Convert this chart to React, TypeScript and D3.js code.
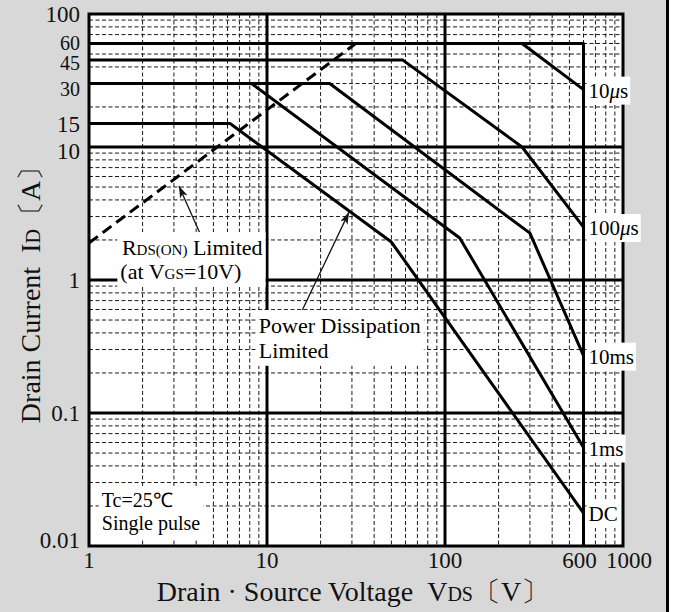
import { useLayoutEffect, useRef, useState } from "react";
import { scaleLog, line } from "d3";

const W = 677;
const H = 612;
const FONT = "'Liberation Serif', 'Times New Roman', serif";

// SOA curves (VDS in V, ID in A)
const curveNames = ["10", "100", "10ms", "1ms", "DC"];
const curveVds = [
  [271, 600],
  [1, 58, 271, 600],
  [1, 22.5, 300, 600],
  [1, 8.2, 121, 600],
  [1, 6.2, 50, 600],
];
const curveId = [
  [60, 27],
  [45, 45, 10, 2.5],
  [30, 30, 2.25, 0.27],
  [30, 30, 2.07, 0.055],
  [15, 15, 1.93, 0.0177],
];

// 60 A / 600 V envelope
const boxVds = [1, 600, 600];
const boxId = [60, 60, 0.01];

// RDS(on) limit (dashed)
const rdsVds = [1, 31.5];
const rdsId = [1.9, 60];

// annotation arrows: [tail, head]
const rdsArrowVds = [4.2, 3.2];
const rdsArrowId = [2.25, 5.1];
const pdArrowVds = [15.7, 28.9];
const pdArrowId = [0.585, 3.24];

const xTickVals = [1, 10, 100, 600, 1000];
const yTickVals = [100, 60, 45, 30, 15, 10, 1, 0.1, 0.01];
const xMajor = [10, 100];
const yMajor = [10, 1, 0.1];

// Boxed text: white rectangle behind whatever text is inside
const Boxed = ({ children, pad = 2 }) => {
	const ref = useRef(null);
	const [bb, setBb] = useState(null);
	useLayoutEffect(() => {
		if (ref.current) setBb(ref.current.getBBox());
	}, []);
	return (
		<g>
			{bb && (
				<rect
					x={bb.x - pad}
					y={bb.y - pad}
					width={bb.width + 2 * pad}
					height={bb.height + 2 * pad}
					fill="#fff"
				/>
			)}
			<g ref={ref}>{children}</g>
		</g>
	);
};

export default function App() {
	let x = scaleLog().domain([1, 1000]).range([89, 623]);
	let y = scaleLog().domain([0.01, 100]).range([546, 14]);

	let path = (vs, is) =>
		line()(vs.map((v, i) => [x(v), y(is[i])]));

	let xMinor = x.ticks().filter((t) => !xMajor.includes(t) && t > 1 && t < 1000);
	let yMinor = y.ticks().filter((t) => !yMajor.includes(t) && t > 0.01 && t < 100);

	let yNudge = (t) =>
		t === 45 ? 2 : t === 60 ? -2 : t === 30 ? 4 : t === 10 ? 4 : t === 0.01 ? -6 : 0;
	let xNudge = (t) => (t === 600 ? -4 : t === 1000 ? 6 : 0);

	let [x0, x1] = x.range();
	let [y0, y1] = y.range();

	return (
		<svg
			width={W}
			height={H}
			style={{ position: "absolute", left: 0, top: 0 }}
			fontFamily={FONT}
		>
			<defs>
				<marker
					id="head"
					viewBox="0 0 12 8"
					refX="12"
					refY="4"
					markerWidth="12"
					markerHeight="8"
					markerUnits="userSpaceOnUse"
					orient="auto"
				>
					<path d="M0,0 L12,4 L0,8 L3,4 z" fill="#111" />
				</marker>
			</defs>
			<rect width={W} height={H} fill="#fff" />
			<rect width={667} height={H} fill="#d8d8d8" />
			<rect x={666} width={3} height={H} fill="#000" />

			<rect x={x0} y={y1} width={x1 - x0} height={y0 - y1} fill="#fff" />

			<g stroke="#1a1a1a" strokeWidth={1} strokeDasharray="4,2.5">
				{xMinor.map((t) => (
					<line key={"x" + t} x1={x(t)} x2={x(t)} y1={y1} y2={y0} />
				))}
				{yMinor.map((t) => (
					<line key={"y" + t} x1={x0} x2={x1} y1={y(t)} y2={y(t)} />
				))}
			</g>
			<g stroke="#000" strokeWidth={3}>
				{xMajor.map((t) => (
					<line key={"X" + t} x1={x(t)} x2={x(t)} y1={y1} y2={y0} />
				))}
				{yMajor.map((t) => (
					<line key={"Y" + t} x1={x0} x2={x1} y1={y(t)} y2={y(t)} />
				))}
			</g>
			<rect
				x={x0}
				y={y1}
				width={x1 - x0}
				height={y0 - y1}
				fill="none"
				stroke="#000"
				strokeWidth={3}
			/>

			<g fill="none" stroke="#000" strokeWidth={3} strokeLinejoin="round">
				<path d={path(boxVds, boxId)} />
				{curveVds.map((vs, i) => (
					<path key={i} d={path(vs, curveId[i])} />
				))}
				<path d={path(rdsVds, rdsId)} strokeDasharray="11,6" strokeLinecap="butt" />
			</g>

			<g stroke="#111" strokeWidth={1.3}>
				<line
					x1={x(rdsArrowVds[0])}
					y1={y(rdsArrowId[0])}
					x2={x(rdsArrowVds[1])}
					y2={y(rdsArrowId[1])}
					markerEnd="url(#head)"
				/>
				<line
					x1={x(pdArrowVds[0])}
					y1={y(pdArrowId[0])}
					x2={x(pdArrowVds[1])}
					y2={y(pdArrowId[1])}
					markerEnd="url(#head)"
				/>
			</g>

			{/* annotations */}
			<Boxed pad={3}>
				<text x={x(1.53)} y={y(1.54)} fontSize={22}>
					R<tspan fontSize={15}>DS(ON)</tspan> Limited
				</text>
				<text x={x(1.5)} y={y(1.0) - 1} fontSize={22}>
					(at V<tspan fontSize={15}>GS</tspan>=10V)
				</text>
			</Boxed>
			<Boxed pad={3}>
				<text x={x(9.0)} y={y(0.4)} fontSize={22}>
					Power Dissipation
				</text>
				<text x={x(9.0)} y={y(0.26)} fontSize={22}>
					Limited
				</text>
			</Boxed>
			<Boxed pad={3}>
				<text x={x(1.18)} y={y(0.0195)} fontSize={20}>
					Tc=25℃
				</text>
				<text x={x(1.18)} y={y(0.0131)} fontSize={20}>
					Single pulse
				</text>
			</Boxed>

			{curveNames.map((n, i) => {
				let ids = curveId[i];
				let cy = y(ids[ids.length - 1]) + 8;
				return (
					<Boxed key={n} pad={2}>
						<text x={x(600) + 5} y={cy} fontSize={21}>
							{i < 2 ? (
								<>
									{n}
									<tspan fontStyle="italic">μ</tspan>s
								</>
							) : (
								n
							)}
						</text>
					</Boxed>
				);
			})}

			{/* tick labels */}
			<g fontSize={23} fill="#111">
				{yTickVals.map((t) => (
					<text
						key={t}
						x={80}
						y={y(t) + 8 + yNudge(t)}
						textAnchor="end"
						fontSize={t >= 30 && t <= 60 ? 20 : 23}
					>
						{t}
					</text>
				))}
				{xTickVals.map((t) => (
					<text key={t} x={x(t) + xNudge(t)} y={568} textAnchor="middle">
						{t}
					</text>
				))}
			</g>

			<text x={353} y={601} fontSize={28} textAnchor="middle" fill="#111">
				Drain · Source Voltage{"\u00a0\u00a0"}V<tspan fontSize={20}>DS</tspan>〔V〕
			</text>
			<text
				transform="translate(40,288) rotate(-90)"
				fontSize={28}
				textAnchor="middle"
				fill="#111"
			>
				Drain Current{"\u00a0\u00a0"}I<tspan fontSize={20}>D</tspan>〔A〕
			</text>
		</svg>
	);
}
